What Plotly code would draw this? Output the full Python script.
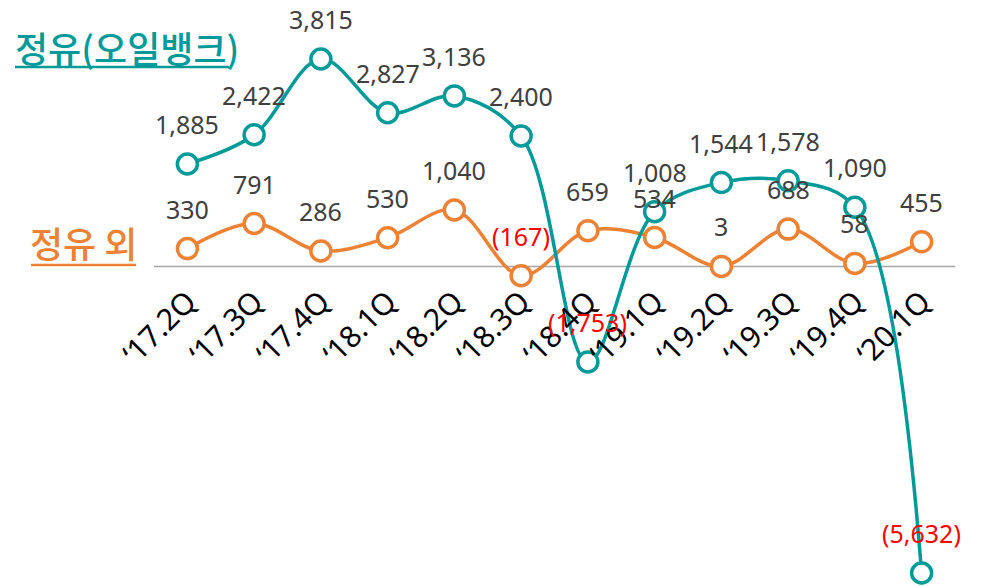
import plotly.graph_objects as go

quarters = ["‘17.2Q", "‘17.3Q", "‘17.4Q", "‘18.1Q", "‘18.2Q", "‘18.3Q",
            "‘18.4Q", "‘19.1Q", "‘19.2Q", "‘19.3Q", "‘19.4Q", "‘20.1Q"]
refinery = [1885, 2422, 3815, 2827, 3136, 2400, -1753, 1008, 1544, 1578, 1090, -5632]
non_refinery = [330, 791, 286, 530, 1040, -167, 659, 534, 3, 688, 58, 455]

TEAL = "#009B98"
ORANGE = "#ED8235"
LABEL_GRAY = "#404040"
RED = "#FF0000"

OFF = 8  # page body margin
L = 146
PW = 801
H = 586

xs = list(range(len(quarters)))

def fmt(v):
    return f"({abs(v):,})" if v < 0 else f"{v:,}"

def px(x):
    return (x - OFF - L) / PW

def py(y):
    return 1 - (y - OFF) / H

fig = go.Figure()
fig.add_shape(type="line", xref="x", yref="y", x0=-0.5, x1=11.5, y0=0, y1=0,
              line=dict(color="#A6A6A6", width=1.5), layer="below")
# legend underlines
fig.add_shape(type="line", xref="paper", yref="paper", x0=px(15), x1=px(229), y0=py(67), y1=py(67),
              line=dict(color=TEAL, width=2.5))
fig.add_shape(type="line", xref="paper", yref="paper", x0=px(31), x1=px(136), y0=py(265), y1=py(265),
              line=dict(color=ORANGE, width=2.5))

for vals, color, name in [(non_refinery, ORANGE, "정유 외"), (refinery, TEAL, "정유(오일뱅크)")]:
    fig.add_trace(go.Scatter(
        x=xs, y=vals, mode="lines+markers", name=name,
        line=dict(color=color, width=3.5, shape="spline", smoothing=1),
        marker=dict(symbol="circle", size=20, color="white", line=dict(color=color, width=3.5)),
        cliponaxis=False, hoverinfo="skip"))

annotations = []
for vals in (refinery, non_refinery):
    for x, v in zip(xs, vals):
        annotations.append(dict(
            x=x, y=v, xref="x", yref="y", text=fmt(v), showarrow=False,
            yanchor="middle", xanchor="center", yshift=40,
            font=dict(family="Noto Sans", size=25, color=RED if v < 0 else LABEL_GRAY)))

annotations.append(dict(
    xref="paper", yref="paper", x=px(13), y=py(47),
    xanchor="left", yanchor="middle", showarrow=False,
    text="정유(오일뱅크)",
    font=dict(family="Noto Sans CJK KR", size=36, color=TEAL, weight=500)))
annotations.append(dict(
    xref="paper", yref="paper", x=px(28), y=py(242),
    xanchor="left", yanchor="middle", showarrow=False,
    text="정유 외",
    font=dict(family="Noto Sans CJK KR", size=36, color=ORANGE, weight=500)))

fig.update_layout(
    width=986, height=H,
    margin=dict(l=L, r=986 - L - PW, t=0, b=0),
    paper_bgcolor="white", plot_bgcolor="white",
    showlegend=False,
    annotations=annotations,
    xaxis=dict(range=[-0.5, 11.5], tickmode="array", tickvals=xs, ticktext=quarters,
               tickangle=-45, anchor="free", position=py(277),
               showgrid=False, zeroline=False, showline=False, ticks="",
               tickfont=dict(family="Noto Sans", size=30, color="black")),
    yaxis=dict(range=[-6018, 4752], visible=False, showgrid=False, zeroline=False),
)

fig.write_html("out.html")
